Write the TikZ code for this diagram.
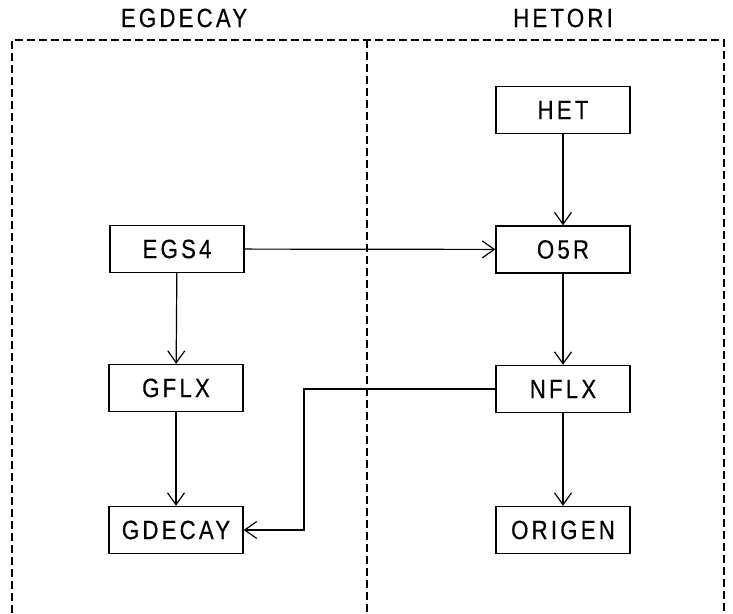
\documentclass[tikz,border=0pt]{standalone}
\usepackage{fontspec}
\setmainfont[FakeStretch=0.84,LetterSpace=12,FakeBold=0.4]{Liberation Sans}
\usetikzlibrary{arrows.meta}
\begin{document}
\begin{tikzpicture}[x=1pt,y=-1pt,
  blk/.style={draw,line width=1.4pt,minimum width=134pt,minimum height=47pt,inner sep=0pt,font=\fontsize{26.5}{26.5}\selectfont},
  ttl/.style={font=\fontsize{26.5}{26.5}\selectfont,inner sep=0pt},
  frame/.style={line width=1.3pt,dash pattern=on 8pt off 4pt},
  conn/.style={line width=1.2pt,-{Straight Barb[length=12pt,width=17pt,line width=1.2pt]}}]
\useasboundingbox (0,0) rectangle (733,613);
% frames
\draw[frame] (12,613) -- (12,40) -- (724,40) -- (724,613);
\draw[frame] (367,40) -- (367,613);
\node[ttl] (t1) at (184,18) {EGDECAY};
\node[ttl] (t2) at (563,18) {HETORI};
% blocks
\node[blk] (het) at (563,110) {HET};
\node[blk] (egs) at (177,249) {EGS4};
\node[blk] (o5r) at (563,249.5) {O5R};
\node[blk] (gflx) at (176,388) {GFLX};
\node[blk] (nflx) at (563,389) {NFLX};
\node[blk] (gdec) at (176,530) {GDECAY};
\node[blk] (orig) at (563,530) {ORIGEN};
% connectors
\draw[conn] (het) -- (o5r);
\draw[conn] (egs) -- (o5r);
\draw[conn] (egs) -- (gflx);
\draw[conn] (o5r) -- (nflx);
\draw[conn] (gflx) -- (gdec);
\draw[conn] (nflx) -- (orig);
\coordinate (k1) at (304,389);
\coordinate (k2) at (304,530);
\draw[conn] (nflx.west) -- (k1) -- (k2) -- (gdec.east);
\end{tikzpicture}
\end{document}
